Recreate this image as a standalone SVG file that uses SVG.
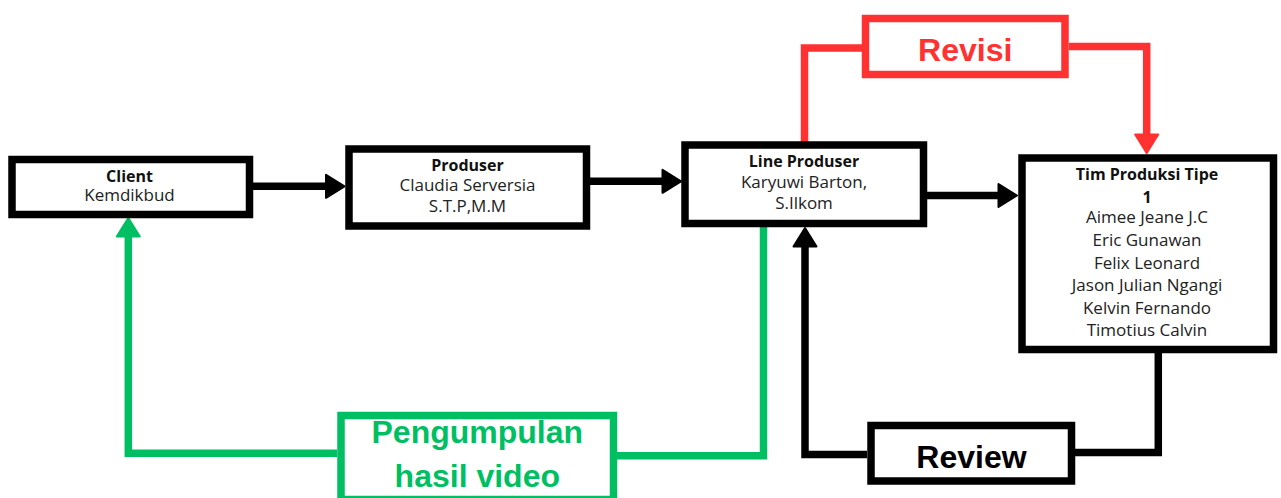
<svg xmlns="http://www.w3.org/2000/svg" width="1281" height="498" viewBox="0 0 1281 498">
<style>
  .box{fill:#fff;stroke:#000;stroke-width:7.5}
  .rbox{fill:#fff;stroke:#ff3131;stroke-width:7.5}
  .gbox{fill:#fff;stroke:#00bf63;stroke-width:7.5}
  .h{font-family:"Open Sans","Liberation Sans",sans-serif;font-weight:bold;font-size:16px;fill:#111;text-anchor:middle}
  .t{font-family:"Open Sans","Liberation Sans",sans-serif;font-size:17px;fill:#222;text-anchor:middle}
  .big{font-family:"Liberation Sans","Open Sans",sans-serif;font-weight:bold;font-size:32px;text-anchor:middle}
  .k{fill:none;stroke:#000;stroke-width:7.5}
  .r{fill:none;stroke:#ff3131;stroke-width:7.5}
  .g{fill:none;stroke:#00bf63;stroke-width:7.5}
</style>
<defs>
  <marker id="ak" markerUnits="userSpaceOnUse" markerWidth="30" markerHeight="30" refX="0" refY="0" orient="auto" overflow="visible">
    <path d="M-1,-11.5 L17.5,0 L-1,11.5 Z" fill="#000" stroke="#000" stroke-width="2" stroke-linejoin="round"/>
  </marker>
  <marker id="ar" markerUnits="userSpaceOnUse" markerWidth="30" markerHeight="30" refX="0" refY="0" orient="auto" overflow="visible">
    <path d="M-1,-11.5 L17.5,0 L-1,11.5 Z" fill="#ff3131" stroke="#ff3131" stroke-width="2" stroke-linejoin="round"/>
  </marker>
  <marker id="ag" markerUnits="userSpaceOnUse" markerWidth="30" markerHeight="30" refX="0" refY="0" orient="auto" overflow="visible">
    <path d="M-1,-11.5 L17.5,0 L-1,11.5 Z" fill="#00bf63" stroke="#00bf63" stroke-width="2" stroke-linejoin="round"/>
  </marker>
</defs>
<rect width="1281" height="498" fill="#fff"/>
<g id="connectors">
  <path class="k" d="M253,186.3 H327" marker-end="url(#ak)"/>
  <path class="k" d="M590,181.3 H663.5" marker-end="url(#ak)"/>
  <path class="k" d="M927,195.5 H999.5" marker-end="url(#ak)"/>
  <path class="r" d="M804.5,142 V48 H862"/>
  <path class="r" d="M1069,46.5 H1146.7 V135.5" marker-end="url(#ar)"/>
  <path class="k" d="M1158.3,353 V452.5 H1075"/>
  <path class="k" d="M867,454.5 H805 V245.5" marker-end="url(#ak)"/>
  <path class="g" d="M763.5,227 V455.8 H617"/>
  <path class="g" d="M337,453.3 H128.3 V235.5" marker-end="url(#ag)"/>
</g>
<g id="client">
  <rect class="box" x="12" y="159.5" width="237.5" height="55"/>
  <text class="h" x="129.5" y="181.5">Client</text>
  <text class="t" x="129.5" y="200.5">Kemdikbud</text>
</g>
<g id="produser">
  <rect class="box" x="349" y="149" width="237.5" height="77"/>
  <text class="h" x="467.5" y="170.5">Produser</text>
  <text class="t" x="467.5" y="191">Claudia Serversia</text>
  <text class="t" x="467.5" y="212">S.T.P,M.M</text>
</g>
<g id="line-produser">
  <rect class="box" x="685" y="145" width="238.5" height="78.5"/>
  <text class="h" x="804" y="166.5">Line Produser</text>
  <text class="t" x="804" y="187.5">Karyuwi Barton,</text>
  <text class="t" x="804" y="208.5">S.Ilkom</text>
</g>
<g id="tim-produksi">
  <rect class="box" x="1022" y="158" width="251.5" height="191.5"/>
  <text class="h" x="1147" y="180">Tim Produksi Tipe</text>
  <text class="h" x="1147" y="203">1</text>
  <text class="t" x="1147" y="223.3">Aimee Jeane J.C</text>
  <text class="t" x="1147" y="246">Eric Gunawan</text>
  <text class="t" x="1147" y="268.5">Felix Leonard</text>
  <text class="t" x="1147" y="291">Jason Julian Ngangi</text>
  <text class="t" x="1147" y="313.5">Kelvin Fernando</text>
  <text class="t" x="1147" y="336">Timotius Calvin</text>
</g>
<g id="revisi">
  <rect class="rbox" x="865.5" y="18.5" width="199.5" height="56"/>
  <text class="big" x="965.2" y="61" fill="#ff3131">Revisi</text>
</g>
<g id="review">
  <rect class="box" x="871" y="425.5" width="200.5" height="55.5"/>
  <text class="big" x="971.5" y="467.7" fill="#000">Review</text>
</g>
<g id="pengumpulan">
  <rect class="gbox" x="341" y="415.5" width="272.5" height="84"/>
  <text class="big" x="477.3" y="442.7" fill="#00bf63">Pengumpulan</text>
  <text class="big" x="477.3" y="486.7" fill="#00bf63">hasil video</text>
</g>
</svg>
